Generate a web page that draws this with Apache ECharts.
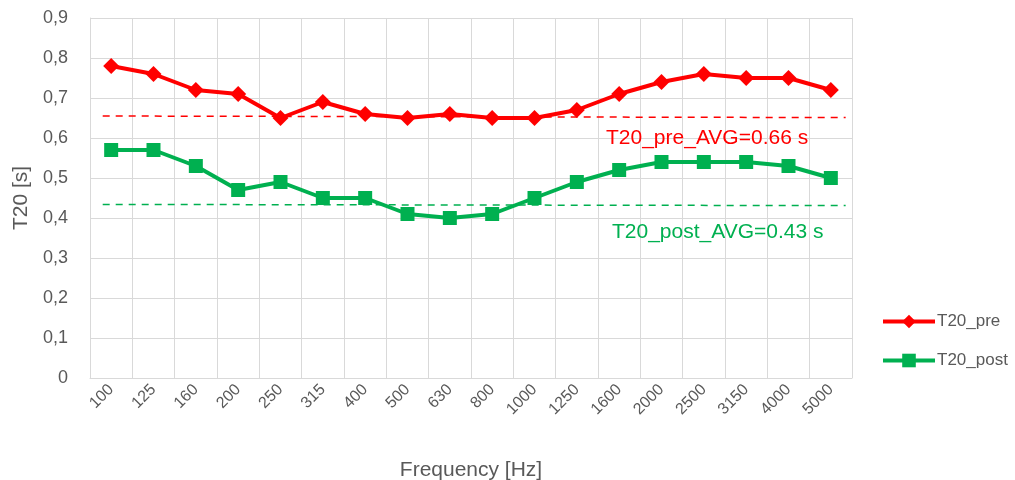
<!DOCTYPE html>
<html><head><meta charset="utf-8">
<script src="https://cdn.jsdelivr.net/npm/echarts@6/dist/echarts.min.js"></script>
<style>html,body{margin:0;padding:0;background:#fff}#c{width:1015px;height:480px}</style>
</head><body><div id="c"></div>
<script>
const categories = ['100','125','160','200','250','315','400','500','630','800','1000','1250','1600','2000','2500','3150','4000','5000'];
const preValues = [0.78,0.76,0.72,0.71,0.65,0.69,0.66,0.65,0.66,0.65,0.65,0.67,0.71,0.74,0.76,0.75,0.75,0.72];
const postValues = [0.57,0.57,0.53,0.47,0.49,0.45,0.45,0.41,0.40,0.41,0.45,0.49,0.52,0.54,0.54,0.54,0.53,0.50];
const preAvg = [0.655, 0.651];
const postAvg = [0.434, 0.431];
const yTicks = ['0','0,1','0,2','0,3','0,4','0,5','0,6','0,7','0,8','0,9'];
const preLabel = 'T20_pre_AVG=0.66 s';
const postLabel = 'T20_post_AVG=0.43 s';

const FONT = 'Liberation Sans';
const RED = '#FF0000', GREEN = '#00B050';
const chart = echarts.init(document.getElementById('c'));
const avgX = [0.3, 17.85];
chart.setOption({
  animation: false,
  textStyle: {fontFamily: FONT},
  grid: {left: 90, right: 163, top: 18, bottom: 102, outerBoundsMode: 'none', containLabel: false},
  legend: {
    orient: 'vertical', left: 876, top: 308, itemGap: 22,
    itemWidth: 52, itemHeight: 17,
    lineStyle: {width: 4},
    textStyle: {fontSize: 17, color: '#595959', fontFamily: FONT, padding: [0,0,0,-3]},
    data: ['T20_pre','T20_post']
  },
  xAxis: [{
    type: 'category', data: categories, boundaryGap: true,
    axisLine: {lineStyle: {color: '#d9d9d9', width: 1}},
    axisTick: {show: false},
    splitLine: {show: true, interval: 0, lineStyle: {color: '#d9d9d9', width: 1}},
    axisLabel: {interval: 0, rotate: 45, fontSize: 16, color: '#595959', margin: 9, fontFamily: FONT},
    name: 'Frequency [Hz]', nameLocation: 'middle', nameGap: 82,
    nameTextStyle: {fontSize: 21, color: '#595959', fontFamily: FONT}
  },{
    type: 'value', min: 0, max: 18, show: false
  }],
  yAxis: {
    type: 'value', min: 0, max: 0.9, interval: 0.1,
    axisLine: {show: true, lineStyle: {color: '#d9d9d9'}},
    axisTick: {show: false},
    splitLine: {lineStyle: {color: '#d9d9d9', width: 1}},
    axisLabel: {fontSize: 18, color: '#595959', margin: 22, fontFamily: FONT,
      formatter: v => yTicks[Math.round(v*10)]},
    name: 'T20 [s]', nameLocation: 'middle', nameGap: 58, nameRotate: 90,
    nameTextStyle: {fontSize: 21, color: '#595959', fontFamily: FONT}
  },
  series: [{
    name: 'T20_pre', type: 'line', data: preValues,
    symbol: 'diamond', symbolSize: 16,
    lineStyle: {color: RED, width: 4}, itemStyle: {color: RED}, z: 5
  },{
    name: 'T20_post', type: 'line', data: postValues,
    symbol: 'rect', symbolSize: 14,
    lineStyle: {color: GREEN, width: 4}, itemStyle: {color: GREEN}, z: 5
  },{
    name: 'preAvg', type: 'line', xAxisIndex: 1,
    data: [[avgX[0], preAvg[0]],[avgX[1], preAvg[1]]],
    symbol: 'none', lineStyle: {color: RED, width: 1.5, type: [7,6]}, z: 3, silent: true
  },{
    name: 'postAvg', type: 'line', xAxisIndex: 1,
    data: [[avgX[0], postAvg[0]],[avgX[1], postAvg[1]]],
    symbol: 'none', lineStyle: {color: GREEN, width: 1.5, type: [7,6]}, z: 3, silent: true
  }],
  graphic: [{
    type: 'text', left: 606, top: 128, z: 100,
    style: {text: preLabel, fill: RED, font: '21px ' + FONT}
  },{
    type: 'text', left: 612, top: 222, z: 100,
    style: {text: postLabel, fill: GREEN, font: '21px ' + FONT}
  }]
});
</script></body></html>
